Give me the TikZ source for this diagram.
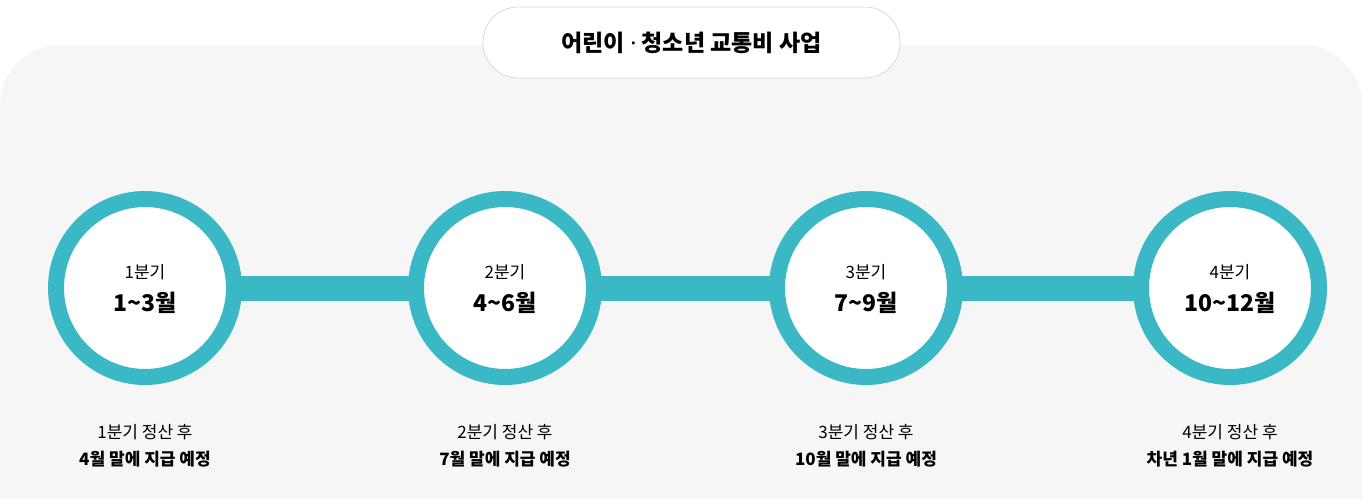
\documentclass[tikz,border=0pt]{standalone}
\usepackage{fontspec}
\usetikzlibrary{calc}
\newfontfamily\kr{Noto Sans CJK KR}
\newfontfamily\lat{Noto Sans}
\definecolor{teal1}{HTML}{3AB8C6}
\definecolor{bg}{HTML}{F6F6F6}
\begin{document}
\begin{tikzpicture}[x=1pt,y=-1pt,font=\kr,
  ring/.style={circle,draw=teal1,line width=16pt,fill=white,minimum size=178pt,align=center,inner sep=0pt},
  bar/.style={fill=teal1},
  sub/.style={font=\kr\fontsize{17}{20}\selectfont,align=center}]
\useasboundingbox (0,0) rectangle (1362,499);
\fill[bg] (0,499) -- (0,105) arc[start angle=180,end angle=270,radius=60] -- (1302,45) arc[start angle=270,end angle=360,radius=60] -- (1362,499) -- cycle;
\node[draw=black!15,fill=white,rounded corners=35pt,minimum width=417pt,minimum height=71pt,line width=0.8pt,font=\kr\bfseries\fontsize{23}{26}\selectfont] (title) at (691.5,42.5) {어린이 {\lat\bfseries ·} 청소년 교통비 사업};
\foreach \x/\n in {145/a,505/b,866/c,1230/d}{\coordinate (\n) at (\x,288);}
\fill[bar] ($(a)+(0,-12.5)$) rectangle ($(d)+(0,12.5)$);
\foreach \n/\q/\m/\t/\u in {a/1분기/1\textasciitilde3월/1분기 정산 후/4월 말에 지급 예정,
  b/2분기/4\textasciitilde6월/2분기 정산 후/7월 말에 지급 예정,
  c/3분기/7\textasciitilde9월/3분기 정산 후/10월 말에 지급 예정,
  d/4분기/10\textasciitilde12월/4분기 정산 후/차년 1월 말에 지급 예정}{
  \node[ring] (\n c) at (\n) {};
  \node[sub] (\n q) at ($(\n)+(0,-16)$) {\q};
  \node[font=\kr\bfseries\fontsize{23}{26}\selectfont] (\n m) at ($(\n)+(0,15)$) {\m};
  \node[sub] (\n t) at ($(\n)+(0,144)$) {\t};
  \node[sub,font=\kr\bfseries\fontsize{17}{20}\selectfont] (\n u) at ($(\n)+(0,171)$) {\u};
}
\end{tikzpicture}
\end{document}
